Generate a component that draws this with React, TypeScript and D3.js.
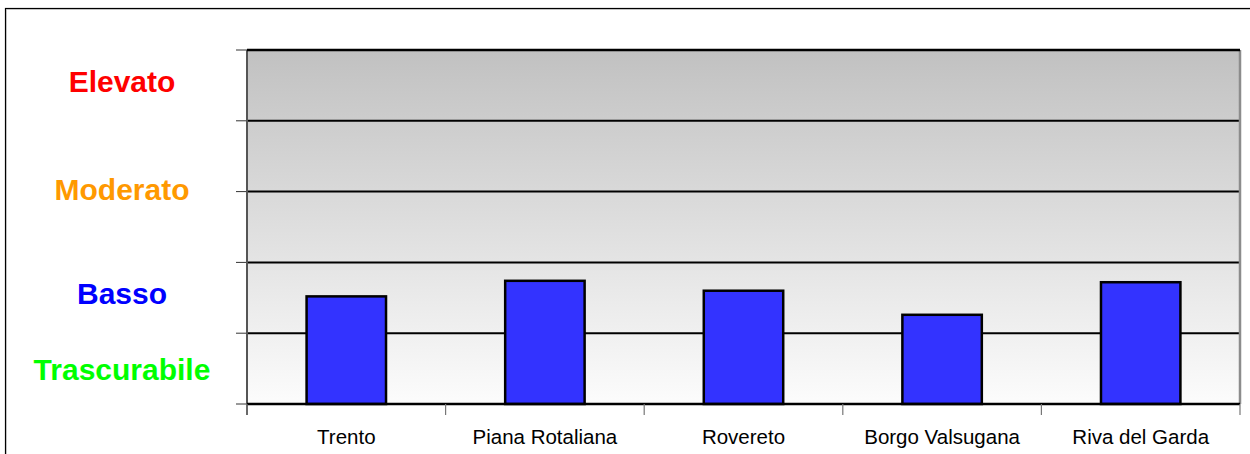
import React, { useMemo } from "react";
import * as d3 from "d3";

const WIDTH = 1250;
const HEIGHT = 454;

const categories = ["Trento", "Piana Rotaliana", "Rovereto", "Borgo Valsugana", "Riva del Garda"];
const values = [1.52, 1.74, 1.6, 1.26, 1.72];

const yTicks = [0, 1, 2, 3, 4, 5];

const levelNames = ["Elevato", "Moderato", "Basso", "Trascurabile"];
const levelColors = ["#ff0000", "#ff9900", "#0000ff", "#00ff00"];
// value at which each label's baseline sits
const levelAnchors = [4.41, 2.88, 1.41, 0.34];

const PLOT = { left: 247, right: 1240, top: 50, bottom: 404 };

export default function App() {
  const x = useMemo(
    () => d3.scaleBand().domain(categories).range([PLOT.left, PLOT.right]).paddingInner(0).paddingOuter(0),
    []
  );
  const y = useMemo(() => d3.scaleLinear().domain([0, 5]).range([PLOT.bottom, PLOT.top]), []);

  const barWidth = x.bandwidth() * 0.4;
  const boundaries = [...categories.map((c) => x(c)), PLOT.right];

  return (
    <svg
      width={WIDTH}
      height={HEIGHT}
      style={{ position: "absolute", left: 0, top: 0, background: "#fff" }}
      fontFamily="'Liberation Sans', Arial, sans-serif"
    >
      <defs>
        <linearGradient id="plotBg" x1="0" y1="0" x2="0" y2="1">
          <stop offset="0%" stopColor="#c1c1c1" />
          <stop offset="100%" stopColor="#fcfcfc" />
        </linearGradient>
      </defs>

      {/* outer frame */}
      <rect x={6.5} y={9.5} width={WIDTH} height={HEIGHT} fill="none" stroke="#d8d8d8" strokeWidth={1} />
      <rect x={5.5} y={8.5} width={WIDTH} height={HEIGHT} fill="none" stroke="#000" strokeWidth={1.2} />

      {/* plot background */}
      <rect
        x={PLOT.left}
        y={PLOT.top}
        width={PLOT.right - PLOT.left}
        height={PLOT.bottom - PLOT.top}
        fill="url(#plotBg)"
      />

      {/* gridlines */}
      {yTicks.slice(1, -1).map((t) => (
        <line key={t} x1={PLOT.left} x2={PLOT.right} y1={y(t)} y2={y(t)} stroke="#000" strokeWidth={2} />
      ))}

      {/* y ticks */}
      {yTicks.map((t) => (
        <line key={t} x1={236} x2={PLOT.left} y1={y(t)} y2={y(t)} stroke="#333" strokeWidth={1} />
      ))}

      {/* side borders */}
      <line x1={PLOT.left} x2={PLOT.left} y1={PLOT.top} y2={PLOT.bottom + 11} stroke="#555" strokeWidth={2} />
      <line x1={PLOT.right} x2={PLOT.right} y1={PLOT.top} y2={PLOT.bottom} stroke="#8c8c8c" strokeWidth={2.5} />
      <line x1={PLOT.left} x2={PLOT.right} y1={PLOT.top} y2={PLOT.top} stroke="#000" strokeWidth={2.6} />

      {/* bars */}
      {categories.map((c, i) => (
        <rect
          key={c}
          x={x(c) + (x.bandwidth() - barWidth) / 2}
          y={y(values[i])}
          width={barWidth}
          height={y(0) - y(values[i])}
          fill="#3333ff"
          stroke="#000"
          strokeWidth={2.5}
        />
      ))}

      {/* x axis */}
      <line x1={PLOT.left} x2={PLOT.right} y1={PLOT.bottom} y2={PLOT.bottom} stroke="#000" strokeWidth={2.4} />
      {boundaries.map((b, i) => (
        <line key={i} x1={b} x2={b} y1={PLOT.bottom} y2={PLOT.bottom + 11} stroke="#777" strokeWidth={1.2} />
      ))}
      {categories.map((c) => (
        <text key={c} x={x(c) + x.bandwidth() / 2} y={444} textAnchor="middle" fontSize={20.5} fill="#000">
          {c}
        </text>
      ))}

      {/* level labels */}
      {levelNames.map((name, i) => (
        <text
          key={name}
          x={122}
          y={y(levelAnchors[i])}
          textAnchor="middle"
          fontSize={30}
          fontWeight="bold"
          fill={levelColors[i]}
        >
          {name}
        </text>
      ))}
    </svg>
  );
}
